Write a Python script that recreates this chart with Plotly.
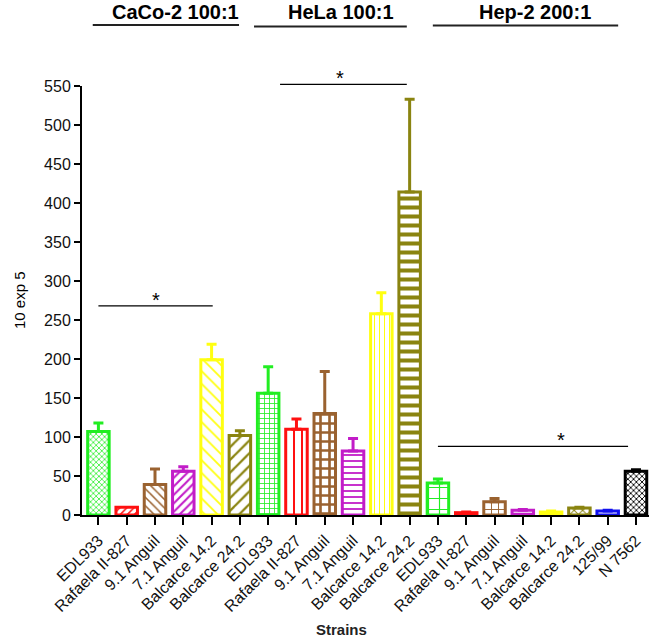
import plotly.graph_objects as go

# ---------------- data ----------------
strains = ["EDL933", "Rafaela II-827", "9.1 Anguil", "7.1 Anguil", "Balcarce 14.2", "Balcarce 24.2",
           "EDL933", "Rafaela II-827", "9.1 Anguil", "7.1 Anguil", "Balcarce 14.2", "Balcarce 24.2",
           "EDL933", "Rafaela II-827", "9.1 Anguil", "7.1 Anguil", "Balcarce 14.2", "Balcarce 24.2",
           "125/99", "N 7562"]
caco2_mean = [107, 10, 39, 56, 199, 102]
caco2_upper = [118, 10, 59, 62, 219, 108]
hela_mean = [156, 110, 130, 82, 258, 414]
hela_upper = [190, 123, 184, 98, 285, 533]
hep2_mean = [41, 3, 17, 6, 4, 9, 5, 56]
hep2_upper = [46, 4, 21, 7, 5, 10, 6, 58]
group_labels = ["CaCo-2 100:1", "HeLa 100:1", "Hep-2 200:1"]
y_ticks = [0, 50, 100, 150, 200, 250, 300, 350, 400, 450, 500, 550]

means = caco2_mean + hela_mean + hep2_mean
uppers = caco2_upper + hela_upper + hep2_upper

# ---------------- styles ----------------
GREEN, RED, BROWN, PURPLE = "#22ee22", "#ff1010", "#9a6230", "#c21cc8"
YELLOW, OLIVE, BLUE, BLACK = "#ffff10", "#8a8410", "#1010ee", "#000000"
colors = [GREEN, RED, BROWN, PURPLE, YELLOW, OLIVE,
          GREEN, RED, BROWN, PURPLE, YELLOW, OLIVE,
          GREEN, RED, BROWN, PURPLE, YELLOW, OLIVE, BLUE, BLACK]
patterns = [("x", 4, 0.35), ("/", 5, 0.3), ("\\", 6, 0.25), ("/", 6, 0.35), ("\\", 9, 0.2), ("/", 9, 0.25),
            ("+", 5, 0.3), ("|", 8, 0.25), ("+", 9, 0.5), ("-", 6, 0.3), ("|", 5, 0.2), ("-", 9, 0.45),
            ("+", 11, 0.2), ("/", 5, 0.3), ("+", 7, 0.25), ("-", 5, 0.3), ("|", 5, 0.3), ("x", 6, 0.3),
            ("", 5, 0.3), ("x", 4, 0.4)]

XMIN, XMAX = -0.58, 19.46
YMAX = 550
T, B = 86, 129
PLOT_H = 644 - T - B

fig = go.Figure()
for i, (m, u) in enumerate(zip(means, uppers)):
    shp, sz, sol = patterns[i]
    fig.add_trace(go.Bar(
        x=[i], y=[m], width=0.76,
        marker=dict(color="white", line=dict(color=colors[i], width=3),
                    pattern=dict(shape=shp, fgcolor=colors[i], bgcolor="white", size=sz,
                                 solidity=sol, fillmode="replace")),
        error_y=dict(type="data", symmetric=False, array=[u - m], arrayminus=[0],
                     color=colors[i], thickness=3, width=5, visible=(u - m) > 0),
        showlegend=False, hoverinfo="skip"))


def px(xv):
    return (xv - XMIN) / (XMAX - XMIN)


def py_pix(ypix):
    # pixel row (from top of figure) -> paper y
    return (644 - B - ypix) / PLOT_H


shapes = []
annotations = []
# significance lines: (x from, x to, level, star x)
sig = [(0, 4.04, 268, 2.04), (6.42, 10.9, 552, 8.55), (12, 18.72, 88, 16.35)]
for x0, x1, yv, xs in sig:
    shapes.append(dict(type="line", xref="paper", yref="paper", x0=px(x0), x1=px(x1),
                       y0=yv / YMAX, y1=yv / YMAX, line=dict(color="black", width=1.3)))
    annotations.append(dict(text="*", xref="paper", yref="paper", x=px(xs), y=yv / YMAX,
                            xanchor="center", yanchor="bottom", showarrow=False, yshift=-7,
                            font=dict(size=20, color="black", family="Liberation Sans")))

# group header lines and labels
headers = [(-0.2, 4.97, 2.71, 25, 11.5), (5.5, 10.9, 8.58, 26.5, 11.5), (11.82, 18.37, 15.43, 25.5, 11.5)]
for (x0, x1, xt, yline, ytext), lab in zip(headers, group_labels):
    yl = py_pix(yline)
    shapes.append(dict(type="line", xref="paper", yref="paper", x0=px(x0), x1=px(x1),
                       y0=yl, y1=yl, line=dict(color="#222222", width=2)))
    annotations.append(dict(text="<b>" + lab + "</b>", xref="paper", yref="paper", x=px(xt),
                            y=py_pix(ytext), xanchor="center", yanchor="middle", showarrow=False,
                            font=dict(size=20, color="black", family="Liberation Sans")))

annotations.append(dict(text="10 exp 5", xref="paper", yref="paper", x=(19 - 82) / 567, y=py_pix(300),
                        textangle=-90, showarrow=False, xanchor="center", yanchor="middle",
                        font=dict(size=15, color="black", family="Liberation Sans")))
annotations.append(dict(text="<b>Strains</b>", xref="paper", yref="paper", x=px(8.6), y=py_pix(629),
                        showarrow=False, xanchor="center", yanchor="middle",
                        font=dict(size=15, color="#222222", family="Liberation Sans")))

fig.update_layout(
    width=651, height=644,
    margin=dict(l=82, r=2, t=T, b=B),
    paper_bgcolor="white", plot_bgcolor="white",
    barmode="overlay",
    shapes=shapes, annotations=annotations,
    font=dict(family="Liberation Sans", color="black"),
    xaxis=dict(range=[XMIN, XMAX], tickmode="array", tickvals=list(range(len(strains))),
               ticktext=strains, tickangle=-45, showgrid=False, zeroline=False,
               showline=True, linecolor="black", linewidth=2, ticks="outside",
               ticklen=8, tickwidth=2, tickcolor="black",
               tickfont=dict(size=16, color="#111111", family="Liberation Sans")),
    yaxis=dict(range=[0, YMAX], tickmode="array", tickvals=y_ticks, showgrid=False,
               zeroline=False, showline=True, linecolor="black", linewidth=2,
               ticks="outside", ticklen=6, tickwidth=2, tickcolor="black",
               tickprefix="<b>", ticksuffix="</b>",
               tickfont=dict(size=16, color="#111111", family="Liberation Sans")),
)

fig.write_html("out.html", config={"displayModeBar": False},
               post_script="document.body.style.margin='0';document.body.style.padding='0';")
